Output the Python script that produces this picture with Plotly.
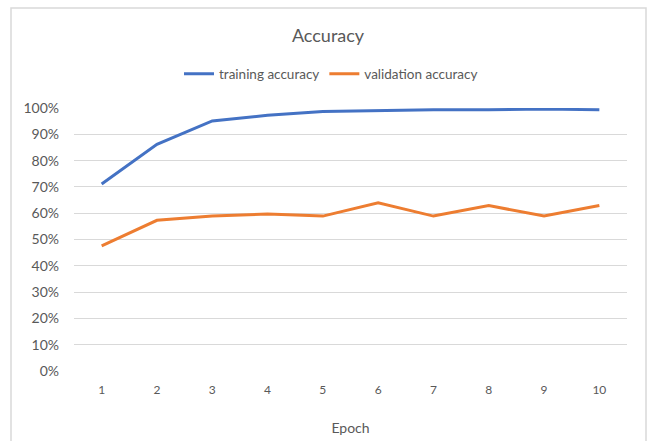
import plotly.graph_objects as go

epochs = [1, 2, 3, 4, 5, 6, 7, 8, 9, 10]
training_accuracy = [0.711, 0.862, 0.951, 0.972, 0.987, 0.990, 0.993, 0.993, 0.996, 0.993]
validation_accuracy = [0.476, 0.573, 0.589, 0.597, 0.589, 0.640, 0.589, 0.629, 0.589, 0.629]
y_ticks = [0, 0.1, 0.2, 0.3, 0.4, 0.5, 0.6, 0.7, 0.8, 0.9, 1.0]

FONT = "Lato"
GRAY = "#595959"

fig = go.Figure()
fig.add_trace(go.Scatter(x=epochs, y=training_accuracy, mode="lines", name="training accuracy",
                         line=dict(color="#4472C4", width=3)))
fig.add_trace(go.Scatter(x=epochs, y=validation_accuracy, mode="lines", name="validation accuracy",
                         line=dict(color="#ED7D31", width=3)))

fig.update_layout(
    width=648, height=441,
    margin=dict(l=74, r=21, t=108, b=70),
    paper_bgcolor="white", plot_bgcolor="white",
    font=dict(family=FONT, color=GRAY),
    title=dict(text="Accuracy", x=328 / 648, xref="container", y=1 - 36 / 441, yanchor="middle",
               xanchor="center", font=dict(size=18, color=GRAY, family=FONT)),
    legend=dict(orientation="h", x=(331 - 74) / 553, xanchor="center", y=(371 - 74) / 263,
                yanchor="middle",
                font=dict(size=13.5, color=GRAY, family=FONT), itemwidth=30,
                bgcolor="rgba(0,0,0,0)"),
    showlegend=True,
    shapes=[dict(type="rect", xref="paper", yref="paper",
                 x0=(11 - 74) / 553, x1=(646 - 74) / 553,
                 y0=-0.5, y1=(371 - 8) / 263,
                 line=dict(color="#D9D9D9", width=1.5), layer="below")],
)
fig.update_xaxes(range=[0.5, 10.5], tickvals=epochs, ticktext=[str(e) for e in epochs],
                 showgrid=False, zeroline=False, showline=False, automargin=False,
                 tickfont=dict(size=12, color=GRAY), ticklabelstandoff=10,
                 title=dict(text="Epoch", font=dict(size=14, color=GRAY), standoff=27))
fig.update_yaxes(range=[0, 1.0], tickvals=y_ticks, tickformat=".0%",
                 showgrid=True, gridcolor="#D9D9D9", gridwidth=1,
                 zeroline=False, showline=False, automargin=False,
                 tickfont=dict(size=14, color=GRAY), ticklabelstandoff=14)

fig.write_html("out.html", config={"displayModeBar": False},
               post_script="document.body.style.margin='0';document.body.style.overflow='hidden';")
